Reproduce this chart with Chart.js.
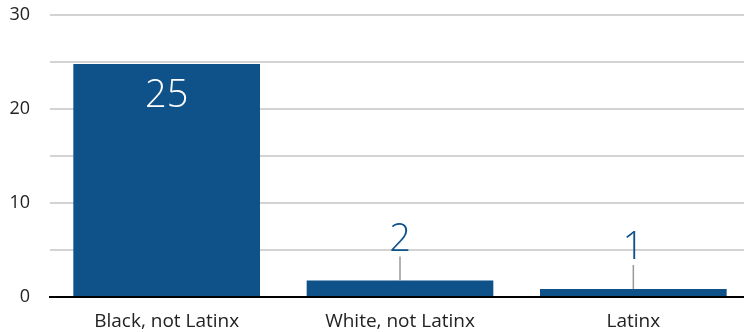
<!doctype html>
<html lang="en">
<head>
<meta charset="utf-8">
<title>Bar chart</title>
<style>
  * { margin: 0; padding: 0; box-sizing: border-box; }
  html, body { width: 744px; height: 332px; overflow: hidden; background: #fff; }
  .chartbox { width: 750px; height: 332px; }
</style>
</head>
<body>
<div class="chartbox"><canvas id="myChart"></canvas></div>
<script src="https://cdn.jsdelivr.net/npm/chart.js@4/dist/chart.umd.min.js"></script>
<script>
const categories = ['Black, not Latinx', 'White, not Latinx', 'Latinx'];
const values = [24.8, 1.75, 0.85];
const yTicks = [0, 10, 20, 30];

const barColor = '#0f5189';
const fontFamily = '"Open Sans", sans-serif';

// value labels: white inside tall bars, blue above short ones with a leader line
const valueLabels = {
  id: 'valueLabels',
  afterDatasetsDraw(chart) {
    const ctx = chart.ctx;
    const meta = chart.getDatasetMeta(0);
    ctx.save();
    ctx.font = '300 38px ' + fontFamily;
    ctx.textAlign = 'center';
    ctx.textBaseline = 'alphabetic';
    meta.data.forEach((bar, i) => {
      const txt = String(Math.round(values[i]));
      const h = bar.base - bar.y;
      if (h > 60) {
        ctx.fillStyle = '#ffffff';
        ctx.fillText(txt, bar.x, bar.y + 43);
      } else {
        ctx.strokeStyle = '#999999';
        ctx.lineWidth = 1.5;
        ctx.beginPath();
        ctx.moveTo(bar.x, bar.y);
        ctx.lineTo(bar.x, bar.y - 24);
        ctx.stroke();
        ctx.fillStyle = barColor;
        ctx.fillText(txt, bar.x, bar.y - 30);
      }
    });
    ctx.restore();
  }
};

new Chart(document.getElementById('myChart'), {
  type: 'bar',
  data: {
    labels: categories,
    datasets: [{
      data: values,
      backgroundColor: barColor,
      borderWidth: 0,
      barPercentage: 0.8,
      categoryPercentage: 1
    }]
  },
  options: {
    responsive: true,
    maintainAspectRatio: false,
    animation: false,
    layout: { padding: { top: 15, left: 0, right: 0, bottom: 0 } },
    plugins: { legend: { display: false }, tooltip: { enabled: false } },
    scales: {
      x: {
        grid: { display: false, drawTicks: false },
        border: { color: '#000', width: 2 },
        ticks: { color: '#222', font: { family: fontFamily, size: 19 }, padding: 13, maxRotation: 0 },
        afterFit(scale) { scale.height = 35; scale.paddingLeft = 0; scale.paddingRight = 0; }
      },
      y: {
        min: yTicks[0],
        max: yTicks[yTicks.length - 1],
        grid: { color: '#d3d3d3', lineWidth: 2, drawTicks: false },
        border: { display: false },
        ticks: {
          stepSize: 5,
          color: '#222',
          font: { family: fontFamily, size: 18 },
          padding: 20,
          callback: v => yTicks.includes(v) ? v : ''
        },
        afterFit(scale) { scale.width = 50; scale.paddingTop = 0; scale.paddingBottom = 0; }
      }
    }
  },
  plugins: [valueLabels]
});
</script>
</body>
</html>
